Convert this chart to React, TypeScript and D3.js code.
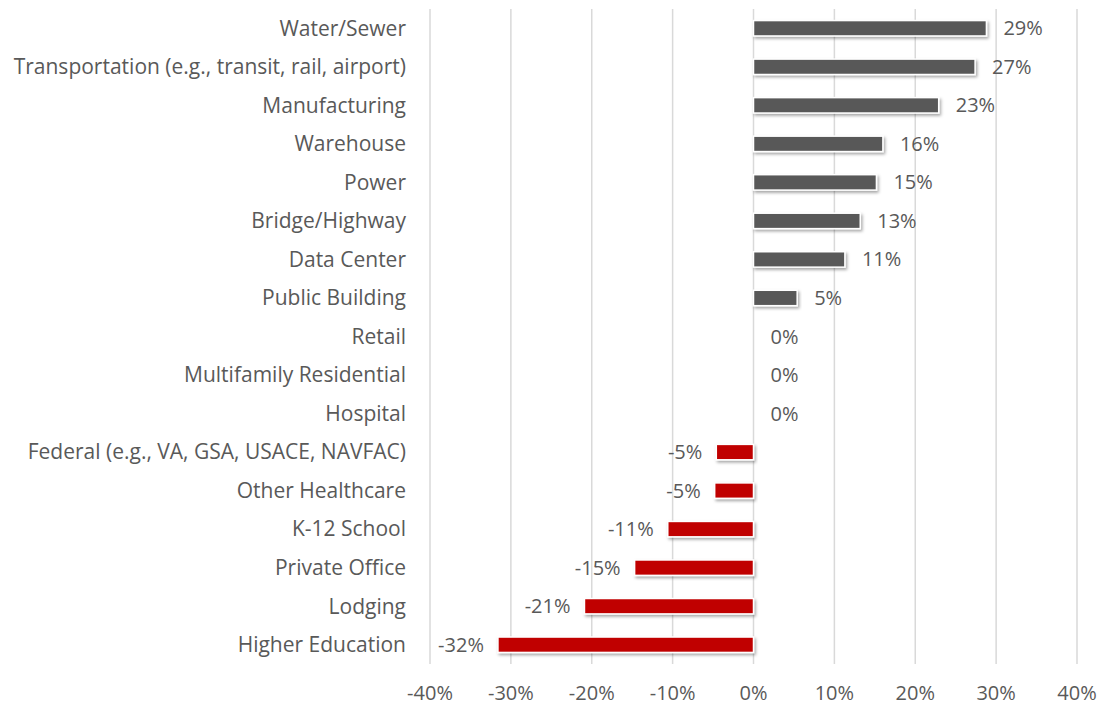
import React from "react";
import * as d3 from "d3";

const categories = [
  "Water/Sewer",
  "Transportation (e.g., transit, rail, airport)",
  "Manufacturing",
  "Warehouse",
  "Power",
  "Bridge/Highway",
  "Data Center",
  "Public Building",
  "Retail",
  "Multifamily Residential",
  "Hospital",
  "Federal (e.g., VA, GSA, USACE, NAVFAC)",
  "Other Healthcare",
  "K-12 School",
  "Private Office",
  "Lodging",
  "Higher Education",
];
const values = [28.8, 27.4, 22.9, 16, 15.2, 13.2, 11.3, 5.4, 0, 0, 0, -4.6, -4.8, -10.6, -14.7, -20.9, -31.6];
const xTicks = [-40, -30, -20, -10, 0, 10, 20, 30, 40];

const W = 1101, H = 707;
const left = 430, right = 1077, top = 9, bottom = 664;
const FONT = "'Open Sans', sans-serif";
const TXT = "#595959";

export default function App() {
  const x = d3.scaleLinear().domain([-40, 40]).range([left, right]);
  const y = d3.scaleBand().domain(categories).range([top, bottom]).paddingInner(0.6).paddingOuter(0.3);
  const bh = y.bandwidth();
  return (
    <svg width={W} height={H} style={{ position: "absolute", left: 0, top: 0 }} fontFamily={FONT}>
      <defs>
        <filter id="sh" x="-10%" y="-50%" width="120%" height="220%">
          <feDropShadow dx="1.5" dy="2" stdDeviation="1.5" floodColor="#000" floodOpacity="0.35" />
        </filter>
      </defs>
      <rect width={W} height={H} fill="#fff" />
      {xTicks.map((t) => (
        <line key={t} x1={x(t)} x2={x(t)} y1={top} y2={bottom} stroke="#d9d9d9" strokeWidth={1.5} />
      ))}
      {categories.map((c, i) => {
        const v = values[i];
        const yc = (y(c) as number) + bh / 2;
        const x0 = x(Math.min(0, v));
        const x1 = x(Math.max(0, v));
        const lbl = `${Math.round(v)}%`;
        return (
          <g key={c}>
            <text x={406} y={yc} dy="0.35em" textAnchor="end" fontSize={21} fill={TXT}>{c}</text>
            {v !== 0 && (
              <rect x={x0} y={y(c)} width={x1 - x0} height={bh}
                fill={v > 0 ? "#595959" : "#C00000"} stroke="#fff" strokeWidth={1.5} filter="url(#sh)" />
            )}
            <text x={v >= 0 ? x1 + 17 : x0 - 14} y={yc} dy="0.35em" textAnchor={v >= 0 ? "start" : "end"}
              fontSize={20} fill={TXT}>{lbl}</text>
          </g>
        );
      })}
      {xTicks.map((t) => (
        <text key={t} x={x(t)} y={693} dy="0.35em" textAnchor="middle" fontSize={20} fill={TXT}>{`${t}%`}</text>
      ))}
    </svg>
  );
}
